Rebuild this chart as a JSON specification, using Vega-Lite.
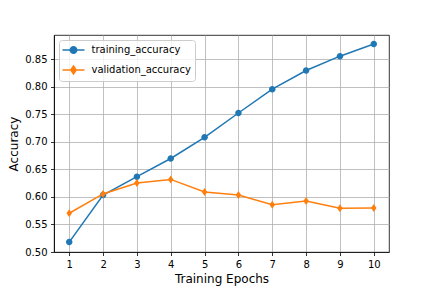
{
  "$schema": "https://vega.github.io/schema/vega-lite/v6.json",
  "width": 335,
  "height": 217,
  "autosize": {"type": "none"},
  "padding": {"left": 54, "top": 35, "right": 43, "bottom": 36},
  "background": "white",
  "config": {
    "view": {"stroke": "black", "strokeWidth": 0.8},
    "font": "DejaVu Sans",
    "axis": {
      "labelFont": "DejaVu Sans",
      "labelFontSize": 10,
      "labelColor": "#000000",
      "titleFont": "DejaVu Sans",
      "titleFontSize": 12,
      "titleFontWeight": "normal",
      "titleColor": "#000000",
      "tickColor": "#000000",
      "tickSize": 3.5,
      "tickWidth": 0.8,
      "labelPadding": 3.5,
      "domainColor": "#000000",
      "domainWidth": 0.8,
      "gridColor": "#b0b0b0",
      "gridWidth": 0.8,
      "gridOpacity": 1
    }
  },
  "data": {
    "values": [
      {"epoch": 1, "series": "training_accuracy", "value": 0.518},
      {"epoch": 2, "series": "training_accuracy", "value": 0.6036},
      {"epoch": 3, "series": "training_accuracy", "value": 0.637},
      {"epoch": 4, "series": "training_accuracy", "value": 0.670},
      {"epoch": 5, "series": "training_accuracy", "value": 0.7085},
      {"epoch": 6, "series": "training_accuracy", "value": 0.7527},
      {"epoch": 7, "series": "training_accuracy", "value": 0.796},
      {"epoch": 8, "series": "training_accuracy", "value": 0.830},
      {"epoch": 9, "series": "training_accuracy", "value": 0.856},
      {"epoch": 10, "series": "training_accuracy", "value": 0.878},
      {"epoch": 1, "series": "validation_accuracy", "value": 0.5704},
      {"epoch": 2, "series": "validation_accuracy", "value": 0.6055},
      {"epoch": 3, "series": "validation_accuracy", "value": 0.6255},
      {"epoch": 4, "series": "validation_accuracy", "value": 0.632},
      {"epoch": 5, "series": "validation_accuracy", "value": 0.609},
      {"epoch": 6, "series": "validation_accuracy", "value": 0.6036},
      {"epoch": 7, "series": "validation_accuracy", "value": 0.586},
      {"epoch": 8, "series": "validation_accuracy", "value": 0.5927},
      {"epoch": 9, "series": "validation_accuracy", "value": 0.5794},
      {"epoch": 10, "series": "validation_accuracy", "value": 0.580}
    ]
  },
  "encoding": {
    "x": {
      "field": "epoch",
      "type": "quantitative",
      "scale": {"domain": [0.55, 10.45], "nice": false, "zero": false},
      "axis": {"values": [1,2,3,4,5,6,7,8,9,10], "format": "d", "title": "Training Epochs", "titlePadding": 4, "labelFlush": false}
    },
    "y": {
      "field": "value",
      "type": "quantitative",
      "scale": {"domain": [0.5, 0.8945], "nice": false, "zero": false},
      "axis": {"values": [0.5,0.55,0.6,0.65,0.7,0.75,0.8,0.85], "format": ".2f", "title": "Accuracy", "titlePadding": 4, "labelFlush": false}
    },
    "color": {
      "field": "series",
      "type": "nominal",
      "scale": {"domain": ["training_accuracy", "validation_accuracy"], "range": ["#1f77b4", "#ff7f0e"]},
      "legend": {
        "title": null,
        "orient": "top-left",
        "offset": 5,
        "padding": 4,
        "rowPadding": 6,
        "fillColor": "rgba(255,255,255,0.8)",
        "strokeColor": "#cccccc",
        "cornerRadius": 3,
        "labelFont": "DejaVu Sans",
        "labelFontSize": 10,
        "labelColor": "#000000",
        "symbolSize": 100,
        "symbolOffset": 4.5,
        "labelOffset": 12,
        "symbolStrokeWidth": 1.5,
        "symbolType": "M-2.2,0L2.2,0M0.65,0A0.65,0.65,0,1,1,-0.65,0A0.65,0.65,0,1,1,0.65,0Z",
        "encode": {
          "symbols": {
            "update": {
              "shape": {"signal": "datum.value === 'training_accuracy' ? 'M-2.2,0L2.2,0M0.65,0A0.65,0.65,0,1,1,-0.65,0A0.65,0.65,0,1,1,0.65,0Z' : 'M-2.2,0L2.2,0M0,-0.8L0.55,0L0,0.8L-0.55,0Z'"},
              "stroke": {"signal": "scale('color', datum.value)"},
              "fill": {"signal": "scale('color', datum.value)"},
              "strokeWidth": {"value": 1.5},
              "opacity": {"value": 1}
            }
          }
        }
      }
    }
  },
  "layer": [
    {
      "transform": [{"filter": "datum.series === 'training_accuracy'"}],
      "layer": [
        {"mark": {"type": "line", "strokeWidth": 1.5}},
        {"mark": {"type": "point", "filled": true, "opacity": 1, "size": 100, "shape": "M0.65,0A0.65,0.65,0,1,1,-0.65,0A0.65,0.65,0,1,1,0.65,0Z"}}
      ]
    },
    {
      "transform": [{"filter": "datum.series === 'validation_accuracy'"}],
      "layer": [
        {"mark": {"type": "line", "strokeWidth": 1.5}},
        {"mark": {"type": "point", "filled": true, "opacity": 1, "size": 100, "shape": "M0,-0.8L0.55,0L0,0.8L-0.55,0Z"}}
      ]
    }
  ]
}
